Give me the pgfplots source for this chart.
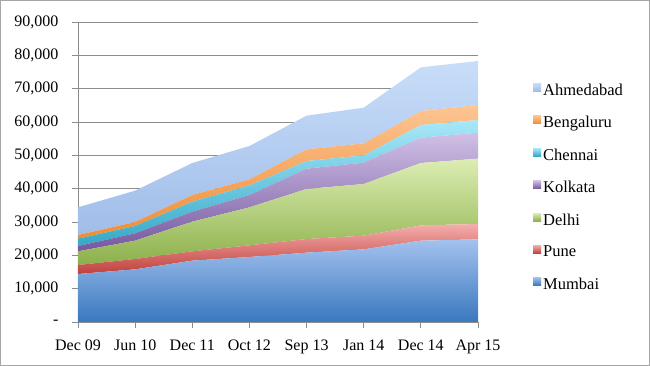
\documentclass[border=0pt]{standalone}
\usepackage{pgfplots}
\usepackage{pgfplotstable}
\pgfplotsset{compat=1.18}
\usepackage{fontspec}
\setmainfont{Liberation Serif}

\definecolor{mumB}{HTML}{3A78BF}\definecolor{mumT}{HTML}{A3C2EE}
\definecolor{punB}{HTML}{C0403C}\definecolor{punT}{HTML}{F4AEAC}
\definecolor{delB}{HTML}{8CB04A}\definecolor{delT}{HTML}{DCEDB2}
\definecolor{kolB}{HTML}{7558A0}\definecolor{kolT}{HTML}{D0C0E6}
\definecolor{cheB}{HTML}{35A9C6}\definecolor{cheT}{HTML}{A8E8FA}
\definecolor{benB}{HTML}{F08C35}\definecolor{benT}{HTML}{FCC593}
\definecolor{ahmB}{HTML}{A0BDE8}\definecolor{ahmT}{HTML}{C8DDF9}
\definecolor{gridc}{HTML}{8C8C8C}

\pgfplotstableread{
x Mumbai Pune Delhi Kolkata Chennai Bengaluru Ahmedabad
0 14400 2700 4100 1600 2200 1100 8300
1 15800 3100 5500 2200 2200 1200 9400
2 18400 2800 8900 3000 3000 2000 9600
3 19500 3500 11400 3700 2900 1800 10000
4 20800 4100 15000 6100 2300 3500 10100
5 21800 4100 15500 6400 2200 3600 10700
6 24400 4600 18700 7600 3800 4200 13100
7 24800 4600 19600 7800 3800 4500 13200
}\datatable

\begin{document}
\begin{tikzpicture}[x=1pt,y=1pt]
\begin{axis}[
  at={(78pt,44pt)}, anchor=south west,
  scale only axis, width=400pt, height=300pt,
  stack plots=y,
  xmin=0, xmax=7, ymin=0, ymax=90000,
  xtick={0,...,7},
  xticklabels={Dec 09,Jun 10,Dec 11,Oct 12,Sep 13,Jan 14,Dec 14,Apr 15},
  scaled y ticks=false,
  ytick={0,10000,...,90000},
  yticklabels={{-},{10,000},{20,000},{30,000},{40,000},{50,000},{60,000},{70,000},{80,000},{90,000}},
  axis x line*=bottom, axis y line*=left,
  axis line style={gridc, line width=0.8pt},
  ymajorgrids, grid style={gridc, line width=0.8pt},
  tick style={gridc, line width=0.8pt},
  tick align=outside, major tick length=6pt,
  ticklabel style={font=\fontsize{16}{18}\selectfont},
  yticklabel style={xshift=-10pt},
  xticklabel style={yshift=-8pt},
  legend style={at={(1.13,0.808)}, anchor=north west, draw=none, fill=none,
    font=\fontsize{16.5}{18}\selectfont, row sep=15.5pt,
    legend cell align=left},
  reverse legend,
  legend image code/.code={\fill[#1] (0pt,-1pt) rectangle (8pt,7pt);},
  clip=false,
]
\addplot[draw=none, top color=mumT, bottom color=mumB] table[x=x,y=Mumbai]{\datatable} \closedcycle;
\addlegendentry{Mumbai}
\addplot[draw=none, top color=punT, bottom color=punB] table[x=x,y=Pune]{\datatable} \closedcycle;
\addlegendentry{Pune}
\addplot[draw=none, top color=delT, bottom color=delB] table[x=x,y=Delhi]{\datatable} \closedcycle;
\addlegendentry{Delhi}
\addplot[draw=none, top color=kolT, bottom color=kolB] table[x=x,y=Kolkata]{\datatable} \closedcycle;
\addlegendentry{Kolkata}
\addplot[draw=none, top color=cheT, bottom color=cheB] table[x=x,y=Chennai]{\datatable} \closedcycle;
\addlegendentry{Chennai}
\addplot[draw=none, top color=benT, bottom color=benB] table[x=x,y=Bengaluru]{\datatable} \closedcycle;
\addlegendentry{Bengaluru}
\addplot[draw=none, top color=ahmT, bottom color=ahmB] table[x=x,y=Ahmedabad]{\datatable} \closedcycle;
\addlegendentry{Ahmedabad}
\end{axis}
\pgfresetboundingbox
\useasboundingbox (0pt,0pt) rectangle (650pt,366pt);
\draw[gray!70, line width=1pt] (0.5pt,0.5pt) rectangle (649.5pt,365.5pt);
\end{tikzpicture}
\end{document}
